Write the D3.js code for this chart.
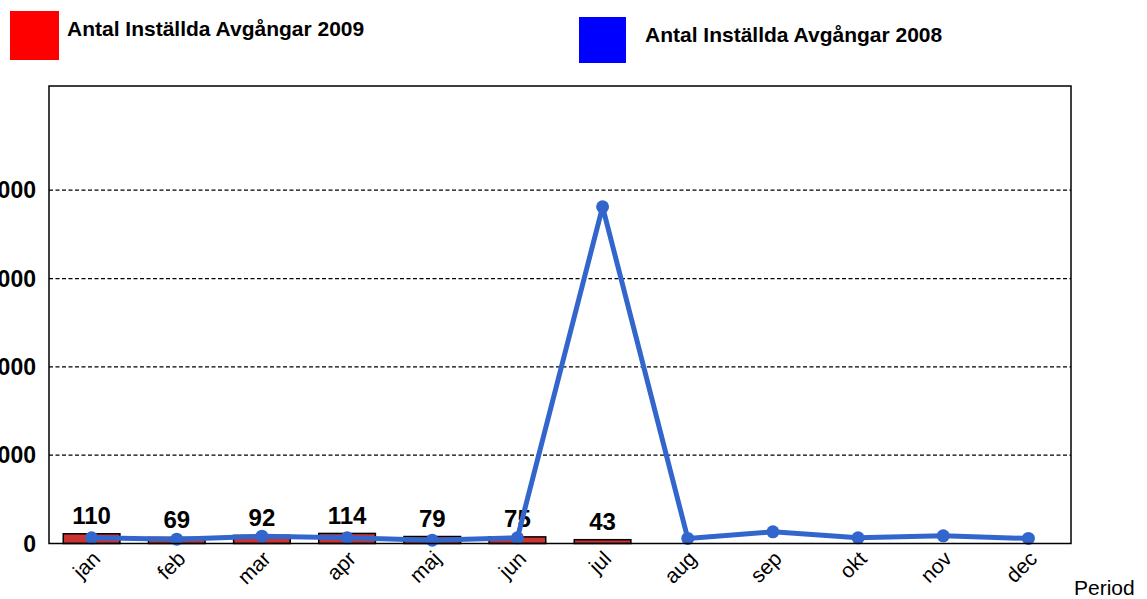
<!DOCTYPE html>
<html>
<head>
<meta charset="utf-8">
<script src="https://cdn.jsdelivr.net/npm/d3@7"></script>
<style>
  body { margin: 0; background: #fff; }
  svg { display: block; font-family: "Liberation Sans", Arial, sans-serif; }
</style>
</head>
<body>
<svg id="chart" width="1147" height="599"></svg>
<script>
const months = ["jan", "feb", "mar", "apr", "maj", "jun", "jul", "aug", "sep", "okt", "nov", "dec"];
const values2009 = [110, 69, 92, 114, 79, 75, 43];
const values2008 = [64, 49, 83, 64, 38, 64, 3812, 57, 132, 64, 87, 57];
const yTicks = [0, 1000, 2000, 3000, 4000];
const legendLabels = ["Antal Inställda Avgångar 2009", "Antal Inställda Avgångar 2008"];

const svg = d3.select("#chart");
const plotLeft = 49, plotRight = 1071, plotTop = 86, plotBottom = 543.5;

const x = d3.scaleBand()
    .domain(months)
    .range([plotLeft, plotRight])
    .paddingInner(0.335)
    .paddingOuter(0.1675);

const y = d3.scaleLinear()
    .domain([0, 5180])
    .range([plotBottom, plotTop]);

const cx = m => x(m) + x.bandwidth() / 2;

// legend
const legend = [
    { label: legendLabels[0], color: "#ff0000", rx: 10, ry: 11, w: 49, h: 49, tx: 67, ty: 36 },
    { label: legendLabels[1], color: "#0000ff", rx: 579, ry: 17, w: 47, h: 46, tx: 645, ty: 42 }
];
legend.forEach(d => {
    svg.append("rect")
        .attr("x", d.rx).attr("y", d.ry)
        .attr("width", d.w).attr("height", d.h)
        .attr("fill", d.color);
    svg.append("text")
        .attr("x", d.tx).attr("y", d.ty)
        .attr("font-size", 21)
        .attr("font-weight", "bold")
        .text(d.label);
});

// gridlines
svg.append("g")
    .selectAll("line")
    .data(yTicks.filter(t => t > 0))
    .enter()
    .append("line")
    .attr("x1", plotLeft).attr("x2", plotRight)
    .attr("y1", d => y(d)).attr("y2", d => y(d))
    .attr("stroke", "#000")
    .attr("stroke-width", 1.2)
    .attr("stroke-dasharray", "4,2.5");

// y tick labels (left edge is cut off in the original too)
svg.append("g")
    .selectAll("text")
    .data(yTicks)
    .enter()
    .append("text")
    .attr("x", 36)
    .attr("y", d => y(d))
    .attr("dy", "0.36em")
    .attr("text-anchor", "end")
    .attr("font-size", 23)
    .attr("font-weight", "bold")
    .text(d => d);

// bars 2009
svg.append("g")
    .selectAll("rect")
    .data(values2009)
    .enter()
    .append("rect")
    .attr("x", (d, i) => x(months[i]))
    .attr("y", d => y(d))
    .attr("width", x.bandwidth())
    .attr("height", d => plotBottom - y(d))
    .attr("fill", "#cc3333")
    .attr("stroke", "#000")
    .attr("stroke-width", 1.5);

// bar value labels
svg.append("g")
    .selectAll("text")
    .data(values2009)
    .enter()
    .append("text")
    .attr("x", (d, i) => cx(months[i]))
    .attr("y", d => y(d) - 9.5)
    .attr("text-anchor", "middle")
    .attr("font-size", 24)
    .attr("font-weight", "bold")
    .text(d => d);

// line 2008
const line = d3.line()
    .x((d, i) => cx(months[i]))
    .y(d => y(d));

svg.append("path")
    .datum(values2008)
    .attr("d", line)
    .attr("fill", "none")
    .attr("stroke", "#3366cc")
    .attr("stroke-width", 5)
    .attr("stroke-linejoin", "round");

svg.append("g")
    .selectAll("circle")
    .data(values2008)
    .enter()
    .append("circle")
    .attr("cx", (d, i) => cx(months[i]))
    .attr("cy", d => y(d))
    .attr("r", 6.5)
    .attr("fill", "#3366cc");

// plot frame
svg.append("rect")
    .attr("x", plotLeft).attr("y", plotTop)
    .attr("width", plotRight - plotLeft).attr("height", plotBottom - plotTop)
    .attr("fill", "none")
    .attr("stroke", "#000")
    .attr("stroke-width", 1.5);

// x labels
svg.append("g")
    .selectAll("text")
    .data(months)
    .enter()
    .append("text")
    .attr("transform", d => `translate(${cx(d) + 10},${560}) rotate(-45)`)
    .attr("text-anchor", "end")
    .attr("font-size", 21)
    .text(d => d);

svg.append("text")
    .attr("x", 1074)
    .attr("y", 595)
    .attr("font-size", 21)
    .text("Period");
</script>
</body>
</html>
